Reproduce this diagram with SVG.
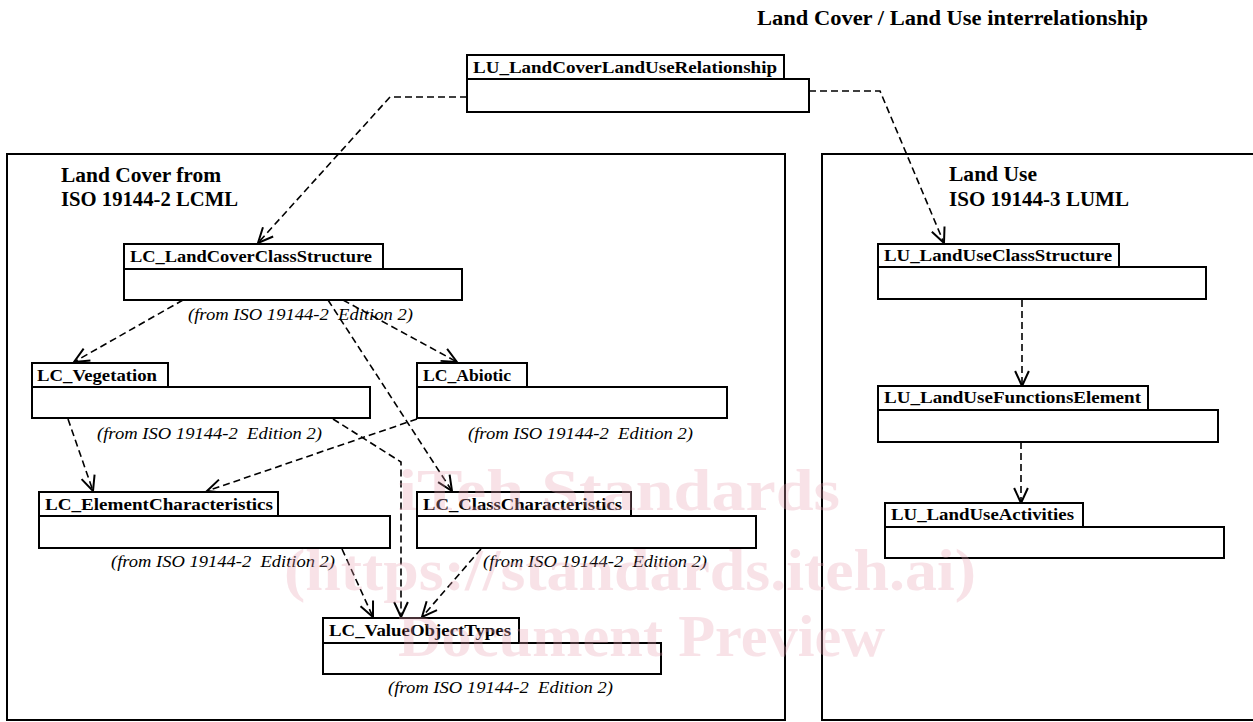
<svg xmlns="http://www.w3.org/2000/svg" width="1253" height="722" viewBox="0 0 1253 722">
<style>
.frame{fill:none;stroke:#000;stroke-width:2}
.box{fill:#fff;stroke:#000;stroke-width:2}
.lbl{font-family:"Liberation Serif","DejaVu Serif",serif;font-weight:bold;font-size:17px;fill:#000}
.pkg{font-family:"Liberation Serif","DejaVu Serif",serif;font-weight:bold;font-size:20px;fill:#000}
.from{font-family:"Liberation Serif","DejaVu Serif",serif;font-style:italic;font-size:17px;fill:#000;white-space:pre}
.conn{fill:none;stroke:#000;stroke-width:1.6;stroke-dasharray:7 4}
.wm{font-family:"Liberation Serif","DejaVu Serif",serif;font-weight:bold;fill:#e9a3b3;opacity:0.3}
</style>
<defs>
<marker id="arr" markerUnits="userSpaceOnUse" markerWidth="20" markerHeight="20" refX="0" refY="0" viewBox="-14 -8 16 16" orient="auto" overflow="visible">
<path d="M -12 -5.5 L 0 0 L -12 5.5" fill="none" stroke="#000" stroke-width="1.6"/>
</marker>
</defs>
<rect width="1253" height="722" fill="#fff"/>
<text class="pkg" x="757" y="25" textLength="391" lengthAdjust="spacingAndGlyphs" font-size="19">Land Cover / Land Use interrelationship</text>

<g id="pkg-landcover">
<rect class="frame" x="7" y="154" width="778" height="566"/>
<text class="pkg" x="61" y="182" textLength="160" lengthAdjust="spacingAndGlyphs">Land Cover from</text>
<text class="pkg" x="61" y="206" textLength="177" lengthAdjust="spacingAndGlyphs">ISO 19144-2 LCML</text>
</g>
<g id="pkg-landuse">
<rect class="frame" x="822" y="154" width="450" height="566"/>
<text class="pkg" x="949" y="181" textLength="88" lengthAdjust="spacingAndGlyphs">Land Use</text>
<text class="pkg" x="949" y="206" textLength="180" lengthAdjust="spacingAndGlyphs">ISO 19144-3 LUML</text>
</g>

<g id="connectors">
<path class="conn" d="M467 97 L390 97 L258 243" marker-end="url(#arr)"/>
<path class="conn" d="M809 91 L880 91 L944 243" marker-end="url(#arr)"/>
<path class="conn" d="M183 300 L74 362" marker-end="url(#arr)"/>
<path class="conn" d="M343 300 L457 362" marker-end="url(#arr)"/>
<path class="conn" d="M328 300 L452 491" marker-end="url(#arr)"/>
<path class="conn" d="M68 419 L93 491" marker-end="url(#arr)"/>
<path class="conn" d="M417 419 L207 491" marker-end="url(#arr)"/>
<path class="conn" d="M333 419 L401 462 L401 617" marker-end="url(#arr)"/>
<path class="conn" d="M342 549 L373 617" marker-end="url(#arr)"/>
<path class="conn" d="M481 549 L422 617" marker-end="url(#arr)"/>
<path class="conn" d="M1022 300 L1022 386" marker-end="url(#arr)"/>
<path class="conn" d="M1021 442 L1021 503" marker-end="url(#arr)"/>
</g>

<g id="LU_LandCoverLandUseRelationship">
<rect class="box" x="467" y="55" width="317" height="24"/>
<rect class="box" x="467" y="79" width="342" height="33"/>
<text class="lbl" x="473" y="73" textLength="304" lengthAdjust="spacingAndGlyphs">LU_LandCoverLandUseRelationship</text>
</g>

<g id="LC_LandCoverClassStructure">
<rect class="box" x="124" y="244" width="259" height="25"/>
<rect class="box" x="124" y="269" width="338" height="31"/>
<text class="lbl" x="130" y="262" textLength="242" lengthAdjust="spacingAndGlyphs">LC_LandCoverClassStructure</text>
<text class="from" x="188" y="320" textLength="225" lengthAdjust="spacingAndGlyphs">(from ISO 19144-2  Edition 2)</text>
</g>

<g id="LC_Vegetation">
<rect class="box" x="32" y="363" width="136" height="24"/>
<rect class="box" x="32" y="387" width="338" height="31"/>
<text class="lbl" x="37" y="381" textLength="120" lengthAdjust="spacingAndGlyphs">LC_Vegetation</text>
<text class="from" x="97" y="439" textLength="225" lengthAdjust="spacingAndGlyphs">(from ISO 19144-2  Edition 2)</text>
</g>

<g id="LC_Abiotic">
<rect class="box" x="417" y="363" width="110" height="24"/>
<rect class="box" x="417" y="387" width="310" height="31"/>
<text class="lbl" x="423" y="381" textLength="88" lengthAdjust="spacingAndGlyphs">LC_Abiotic</text>
<text class="from" x="468" y="439" textLength="225" lengthAdjust="spacingAndGlyphs">(from ISO 19144-2  Edition 2)</text>
</g>

<g id="LC_ElementCharacteristics">
<rect class="box" x="39" y="492" width="239" height="24"/>
<rect class="box" x="39" y="516" width="351" height="32"/>
<text class="lbl" x="45" y="510" textLength="228" lengthAdjust="spacingAndGlyphs">LC_ElementCharacteristics</text>
<text class="from" x="111" y="567" textLength="224" lengthAdjust="spacingAndGlyphs">(from ISO 19144-2  Edition 2)</text>
</g>

<g id="LC_ClassCharacteristics">
<rect class="box" x="417" y="492" width="214" height="24"/>
<rect class="box" x="417" y="516" width="339" height="32"/>
<text class="lbl" x="423" y="510" textLength="199" lengthAdjust="spacingAndGlyphs">LC_ClassCharacteristics</text>
<text class="from" x="483" y="567" textLength="224" lengthAdjust="spacingAndGlyphs">(from ISO 19144-2  Edition 2)</text>
</g>

<g id="LC_ValueObjectTypes">
<rect class="box" x="323" y="618" width="196" height="25"/>
<rect class="box" x="323" y="643" width="338" height="31"/>
<text class="lbl" x="329" y="636" textLength="182" lengthAdjust="spacingAndGlyphs">LC_ValueObjectTypes</text>
<text class="from" x="388" y="693" textLength="225" lengthAdjust="spacingAndGlyphs">(from ISO 19144-2  Edition 2)</text>
</g>

<g id="LU_LandUseClassStructure">
<rect class="box" x="878" y="244" width="241" height="23"/>
<rect class="box" x="878" y="267" width="328" height="32"/>
<text class="lbl" x="884" y="261" textLength="228" lengthAdjust="spacingAndGlyphs">LU_LandUseClassStructure</text>
</g>

<g id="LU_LandUseFunctionsElement">
<rect class="box" x="878" y="386" width="270" height="24"/>
<rect class="box" x="878" y="410" width="340" height="32"/>
<text class="lbl" x="884" y="403" textLength="257" lengthAdjust="spacingAndGlyphs">LU_LandUseFunctionsElement</text>
</g>

<g id="LU_LandUseActivities">
<rect class="box" x="885" y="503" width="198" height="24"/>
<rect class="box" x="885" y="527" width="339" height="31"/>
<text class="lbl" x="891" y="520" textLength="183" lengthAdjust="spacingAndGlyphs">LU_LandUseActivities</text>
</g>

<g id="watermark">
<text class="wm" x="398" y="510" font-size="60" textLength="442" lengthAdjust="spacingAndGlyphs">iTeh Standards</text>
<text class="wm" x="284" y="590" font-size="60" textLength="692" lengthAdjust="spacingAndGlyphs">(https://standards.iteh.ai)</text>
<text class="wm" x="398" y="656" font-size="60" textLength="487" lengthAdjust="spacingAndGlyphs">Document Preview</text>
</g>
</svg>
